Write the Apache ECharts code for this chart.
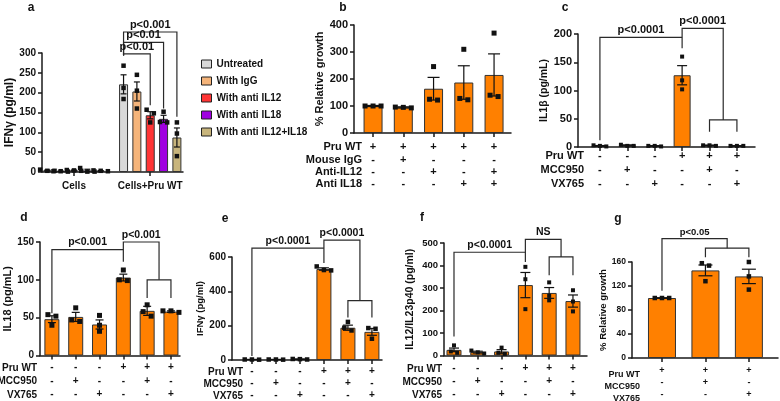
<!DOCTYPE html>
<html><head><meta charset="utf-8">
<script src="https://cdn.jsdelivr.net/npm/echarts@6/dist/echarts.min.js"></script>
<style>html,body{margin:0;padding:0;background:#fff}#c{width:780px;height:401px}</style>
</head><body><div id="c"></div>
<script>
// ---------------- DATA ----------------
// Panel a
const aGroups = ['Cells', 'Cells+Pru WT'];
const aSeriesNames = ['Untreated', 'With IgG', 'With anti IL12', 'With anti IL18', 'With anti IL12+IL18'];
const aMeans = [[4, 221], [2, 203], [4, 143], [4, 134], [3, 87]];
const aSem = [[1, 24], [0.5, 24], [1, 9], [3, 9], [0.6, 24]];
const aPoints = [
  [[6, 3, 3], [268, 212, 184]],
  [[2, 2, 1], [245, 205, 160]],
  [[5, 3, 4], [157, 148, 125]],
  [[10, 1, 1], [152, 126, 125]],
  [[4, 3, 2], [125, 97, 40]]
];
// Panel b
const bMeans = [100, 95, 164, 187, 215];
const bSem = [2, 2, 42, 62, 78];
const bPoints = [[100, 100, 100], [93, 95, 96], [246, 122, 125], [310, 123, 128], [370, 135, 140]];
const bRowNames = ['Pru WT', 'Mouse IgG', 'Anti-IL12', 'Anti IL18'];
const bSigns = [['+','+','+','+','+'], ['-','+','-','-','-'], ['-','-','+','-','+'], ['-','-','-','+','+']];
// Panel c
const cMeans = [2, 3, 2, 127, 3, 2];
const cSem = [0.6, 0.8, 0.4, 17, 0.4, 0.3];
const cPoints = [[1, 3, 2], [2, 4, 2], [1, 2, 2], [160, 118, 102], [3, 3, 2], [2, 2, 2]];
// Panel d
const dMeans = [48, 51, 41, 103, 59, 58];
const dSem = [4.5, 6, 6, 4.5, 6, 1];
const dPoints = [[54, 52, 40], [63, 47, 45], [53, 40, 32], [113, 100, 99], [67, 58, 52], [59, 59, 57]];
// Panel e
const eMeans = [3, 3, 5, 530, 188, 164];
const eSem = [0.5, 0.5, 1, 7, 15, 20];
const ePoints = [[2, 3, 3], [3, 3, 2], [6, 5, 3], [545, 524, 522], [222, 188, 172], [186, 182, 124]];
// Panel f
const fMeans = [25, 15, 18, 313, 278, 242];
const fSem = [8, 4, 8, 56, 24, 27];
const fPoints = [[45, 18, 12], [22, 14, 9], [35, 12, 7], [394, 339, 206], [325, 265, 245], [290, 240, 196]];
// Panel g
const gMeans = [100, 146, 136];
const gSem = [0.5, 9, 12];
const gPoints = [[100, 100, 100], [158, 154, 128], [160, 136, 114]];
// Treatment matrix for c-f (6 columns) and g (3 columns)
const tRowNames = ['Pru WT', 'MCC950', 'VX765'];
const tSigns = [['-','-','-','+','+','+'], ['-','+','-','-','+','-'], ['-','-','+','-','-','+']];
const gSigns = [['+','+','+'], ['-','+','-'], ['-','-','+']];
// Y ticks (max, step)
const aY = [300, 50], bY = [400, 100], cY = [200, 50], dY = [150, 50], eY = [600, 200], fY = [500, 100], gY = [160, 40];

// slot position inside a group for panel a (group index + bar slot)
const A_SLOT = 0.175;
function aX(g, j) { return g + (j - 2) * A_SLOT; }

// Significance brackets (data coordinates: x = category position, y = value)
const aBrackets = [
  {pts: [[aX(1,0), 294], [aX(1,0), 353], [aX(1,4), 353], [aX(1,4), 139]], label: 'p<0.001'},
  {pts: [[aX(1,0), 294], [aX(1,0), 327], [aX(1,3), 327], [aX(1,3), 160]], label: 'p<0.01'},
  {pts: [[aX(1,0), 294], [aX(1,0), 298], [aX(1,2), 298], [aX(1,2), 168]], label: 'p<0.01'}
];
const cBrackets = [
  {pts: [[0, 12], [0, 194], [3, 194]], label: 'p<0.0001'},
  {pts: [[3, 175], [3, 210], [4.5, 210], [4.5, 48]], label: 'p<0.0001'},
  {pts: [[4, 27], [4, 48], [5, 48], [5, 27]], label: ''}
];
const dBrackets = [
  {pts: [[0, 56], [0, 140], [3, 140]], label: 'p<0.001'},
  {pts: [[3, 124], [3, 150], [4.5, 150], [4.5, 100]], label: 'p<0.001'},
  {pts: [[4, 76], [4, 100], [5, 100], [5, 76]], label: ''}
];
const eBrackets = [
  {pts: [[0, 23], [0, 652], [3, 652]], label: 'p<0.0001'},
  {pts: [[3, 565], [3, 698], [4.5, 698], [4.5, 346]], label: 'p<0.0001'},
  {pts: [[4, 248], [4, 346], [5, 346], [5, 248]], label: ''}
];
const fBrackets = [
  {pts: [[0, 84], [0, 459], [3, 459]], label: 'p<0.0001'},
  {pts: [[3, 416], [3, 516], [4.5, 516], [4.5, 438]], label: 'NS'},
  {pts: [[4, 357], [4, 438], [5, 438], [5, 357]], label: ''}
];
const gBrackets = [
  {pts: [[0, 112], [0, 199], [1.5, 199], [1.5, 183]], label: 'p<0.05'},
  {pts: [[1, 168], [1, 183], [2, 183], [2, 168]], label: ''}
];

// ---------------- STYLE ----------------
const FONT = "'Liberation Sans', Arial, sans-serif";
const INK = '#111';
const AXC = '#1a1a1a';
const ORANGE = '#FF8000';
const aColors = ['#D9D9D9', '#F5B47A', '#FF3535', '#A000E0', '#C8B57C'];

const grids = [], xAxes = [], yAxes = [], series = [], graphics = [];

function extrasRender(cap, size) {
  return function (params, api) {
    const x = api.value(0), m = api.value(1), s = api.value(2);
    const cT = api.coord([x, m + s]);
    const cB = api.coord([x, Math.max(0, m - s)]);
    const cx = cT[0];
    const h = cap / 2;
    const ls = {stroke: INK, lineWidth: 1.2};
    const ch = [
      {type: 'line', shape: {x1: cx, y1: cT[1], x2: cx, y2: cB[1]}, style: ls},
      {type: 'line', shape: {x1: cx - h, y1: cT[1], x2: cx + h, y2: cT[1]}, style: ls},
      {type: 'line', shape: {x1: cx - h, y1: cB[1], x2: cx + h, y2: cB[1]}, style: ls}
    ];
    const pts = [3, 4, 5].map(k => ({y: api.coord([x, api.value(k)])[1], dx: 0}));
    const order = [0, 1, 2].sort((a, b) => pts[a].y - pts[b].y);
    const clusters = []; let cur = [order[0]];
    for (let k = 1; k < order.length; k++) {
      if (pts[order[k]].y - pts[cur[cur.length - 1]].y < size) cur.push(order[k]);
      else { clusters.push(cur); cur = [order[k]]; }
    }
    clusters.push(cur);
    clusters.forEach(cl => cl.forEach((idx, k) => { pts[idx].dx = (k - (cl.length - 1) / 2) * size * 1.6; }));
    pts.forEach(p => ch.push({type: 'rect', shape: {x: cx + p.dx - size / 2, y: p.y - size / 2, width: size, height: size}, style: {fill: INK}}));
    return {type: 'group', children: ch};
  };
}

function bracketRender(list, fs) {
  return function (params, api) {
    const b = list[params.dataIndex];
    const pts = b.pts.map(p => api.coord(p));
    const ch = [{type: 'polyline', shape: {points: pts}, style: {stroke: '#2a2a2a', lineWidth: 1.2, fill: 'none'}}];
    if (b.label) {
      const xs = b.pts.map(p => p[0]), ys = b.pts.map(p => p[1]);
      const lp = api.coord([(Math.min(...xs) + Math.max(...xs)) / 2, Math.max(...ys)]);
      ch.push({type: 'text', x: lp[0], y: lp[1] - 1.5, style: {text: b.label, align: 'center', verticalAlign: 'bottom', font: 'bold ' + fs + 'px ' + FONT, fill: INK}});
    }
    return {type: 'group', children: ch};
  };
}

function addPanel(p) {
  const gi = grids.length;
  grids.push({left: p.left, top: p.top, width: p.width, height: p.height, containLabel: false});
  xAxes.push({
    gridIndex: gi, type: 'value', min: p.xMin, max: p.xMax,
    axisLine: {show: true, onZero: false, lineStyle: {color: AXC, width: 1.5}},
    axisTick: {show: true, customValues: p.ticks, length: 4, lineStyle: {color: AXC, width: 1.5}},
    axisLabel: {show: true, customValues: p.ticks, formatter: p.xfmt, margin: p.lm, lineHeight: p.lh,
      fontSize: p.xfs, fontWeight: 'bold', fontFamily: FONT, color: INK},
    splitLine: {show: false}
  });
  yAxes.push({
    gridIndex: gi, type: 'value', min: 0, max: p.y[0], interval: p.y[1],
    name: p.yName, nameLocation: 'middle', nameGap: p.nameGap, nameRotate: 90,
    nameTextStyle: {fontSize: p.nfs, fontWeight: 'bold', fontFamily: FONT, color: INK},
    axisLine: {show: true, onZero: false, lineStyle: {color: AXC, width: 1.5}},
    axisTick: {show: true, length: 4, lineStyle: {color: AXC, width: 1.5}},
    axisLabel: {fontSize: p.yfs, fontWeight: 'bold', fontFamily: FONT, color: INK, margin: 6},
    splitLine: {show: false}
  });
  if (p.rowNames) {
    p.rowNames.forEach((nm, r) => {
      graphics.push({type: 'text', x: p.rowX, y: p.top + p.height + p.lm + p.lh * (r + 0.5),
        style: {text: nm, align: 'right', verticalAlign: 'middle', font: 'bold ' + p.xfs + 'px ' + FONT, fill: INK}, silent: true});
    });
  }
  graphics.push({type: 'text', x: p.letter[0], y: p.letter[1],
    style: {text: p.letterText, align: 'center', verticalAlign: 'middle', font: 'bold 12px ' + FONT, fill: INK}, silent: true});
  return gi;
}

function signFmt(signs) {
  return v => { const i = Math.round(v); return signs.map(r => r[i]).join('\n'); };
}

function addSimple(gi, means, sem, points, barW, cap, size, brackets, bfs) {
  series.push({type: 'bar', xAxisIndex: gi, yAxisIndex: gi, barWidth: barW, silent: true, animation: false,
    data: means.map((m, i) => [i, m]),
    itemStyle: {color: ORANGE, borderColor: '#333', borderWidth: 1}});
  series.push({type: 'custom', xAxisIndex: gi, yAxisIndex: gi, silent: true, animation: false, clip: false,
    renderItem: extrasRender(cap, size), z: 5,
    data: means.map((m, i) => [i, m, sem[i]].concat(points[i]))});
  series.push({type: 'custom', xAxisIndex: gi, yAxisIndex: gi, silent: true, animation: false, clip: false,
    renderItem: bracketRender(brackets, bfs), z: 6,
    data: brackets.map(b => b.pts[0])});
}

// ---------------- PANELS ----------------
// a
const ga = addPanel({left: 42, top: 53, width: 141, height: 119, xMin: -0.42, xMax: 1.43, ticks: [0, 1],
  xfmt: v => aGroups[Math.round(v)], lm: 8, lh: 12, xfs: 10, y: aY, yName: 'IFNγ (pg/ml)', nameGap: 22, nfs: 12, yfs: 10,
  letter: [31, 8], letterText: 'a'});
aSeriesNames.forEach((name, j) => {
  series.push({type: 'bar', name: name, xAxisIndex: ga, yAxisIndex: ga, barWidth: 9, barGap: '-100%', silent: true, animation: false,
    data: aGroups.map((g, gi) => [aX(gi, j), aMeans[j][gi]]),
    itemStyle: {color: aColors[j], borderColor: '#333', borderWidth: 1}});
  series.push({type: 'custom', xAxisIndex: ga, yAxisIndex: ga, silent: true, animation: false, clip: false, z: 5,
    renderItem: extrasRender(6, 4.5),
    data: aGroups.map((g, gi) => [aX(gi, j), aMeans[j][gi], aSem[j][gi]].concat(aPoints[j][gi]))});
});
series.push({type: 'custom', xAxisIndex: ga, yAxisIndex: ga, silent: true, animation: false, clip: false, z: 6,
  renderItem: bracketRender(aBrackets, 11), data: aBrackets.map(b => b.pts[0])});

// b
const gb = addPanel({left: 354, top: 25, width: 157, height: 108, xMin: -0.63, xMax: 4.56, ticks: [0, 1, 2, 3, 4],
  xfmt: signFmt(bSigns), lm: 8, lh: 12.4, xfs: 11, y: bY, yName: '% Relative growth', nameGap: 26, nfs: 11, yfs: 11,
  rowNames: bRowNames, rowX: 362, letter: [343, 8], letterText: 'b'});
addSimple(gb, bMeans, bSem, bPoints, 19, 12, 5, [], 11);

// c
const gc = addPanel({left: 578, top: 34, width: 177, height: 113, xMin: -0.8, xMax: 5.66, ticks: [0, 1, 2, 3, 4, 5],
  xfmt: signFmt(tSigns), lm: 2, lh: 14, xfs: 11, y: cY, yName: 'IL1β (pg/mL)', nameGap: 26, nfs: 10.5, yfs: 11,
  rowNames: tRowNames, rowX: 584, letter: [565, 8], letterText: 'c'});
addSimple(gc, cMeans, cSem, cPoints, 17, 10, 4, cBrackets, 11);

// d
const gd = addPanel({left: 40, top: 242, width: 140, height: 114, xMin: -0.5, xMax: 5.38, ticks: [0, 1, 2, 3, 4, 5],
  xfmt: signFmt(tSigns), lm: 5, lh: 13.5, xfs: 10, y: dY, yName: 'IL18 (pg/mL)', nameGap: 24, nfs: 11, yfs: 10,
  rowNames: tRowNames, rowX: 37, letter: [24, 218], letterText: 'd'});
addSimple(gd, dMeans, dSem, dPoints, 15, 8, 5, dBrackets, 10.5);

// e
const ge = addPanel({left: 232, top: 257, width: 150, height: 104, xMin: -0.83, xMax: 5.42, ticks: [0, 1, 2, 3, 4, 5],
  xfmt: signFmt(tSigns), lm: 5, lh: 12, xfs: 10, y: eY, yName: 'IFNγ (pg/ml)', nameGap: 21, nfs: 9.5, yfs: 10,
  rowNames: tRowNames, rowX: 243, letter: [225, 219], letterText: 'e'});
addSimple(ge, eMeans, eSem, ePoints, 15, 10, 4.5, eBrackets, 10.5);

// f
const gf = addPanel({left: 444, top: 243, width: 143, height: 113, xMin: -0.42, xMax: 5.59, ticks: [0, 1, 2, 3, 4, 5],
  xfmt: signFmt(tSigns), lm: 6.5, lh: 13, xfs: 10, y: fY, yName: 'IL12/IL23p40 (pg/ml)', nameGap: 28, nfs: 10.5, yfs: 9.5,
  rowNames: tRowNames, rowX: 442, letter: [422, 218], letterText: 'f'});
addSimple(gf, fMeans, fSem, fPoints, 15, 10, 4, fBrackets, 10.5);

// g
const gg = addPanel({left: 632, top: 262, width: 146, height: 100, xMin: -0.69, xMax: 2.67, ticks: [0, 1, 2],
  xfmt: signFmt(gSigns), lm: 7, lh: 12, xfs: 9, y: gY, yName: '% Relative growth', nameGap: 21, nfs: 9.5, yfs: 8.5,
  rowNames: tRowNames, rowX: 640, letter: [618, 219], letterText: 'g'});
addSimple(gg, gMeans, gSem, gPoints, 28, 14, 4.5, gBrackets, 9.5);

const chart = echarts.init(document.getElementById('c'), null, {renderer: 'canvas'});
chart.setOption({
  animation: false,
  backgroundColor: '#fff',
  grid: grids,
  xAxis: xAxes,
  yAxis: yAxes,
  legend: {data: aSeriesNames, orient: 'vertical', left: 196, top: 54, itemWidth: 10, itemHeight: 8, itemGap: 7,
    icon: 'rect', itemStyle: {borderColor: '#222', borderWidth: 1},
    textStyle: {fontSize: 10, fontWeight: 'bold', fontFamily: FONT, color: INK}},
  graphic: graphics,
  series: series
});
</script></body></html>
